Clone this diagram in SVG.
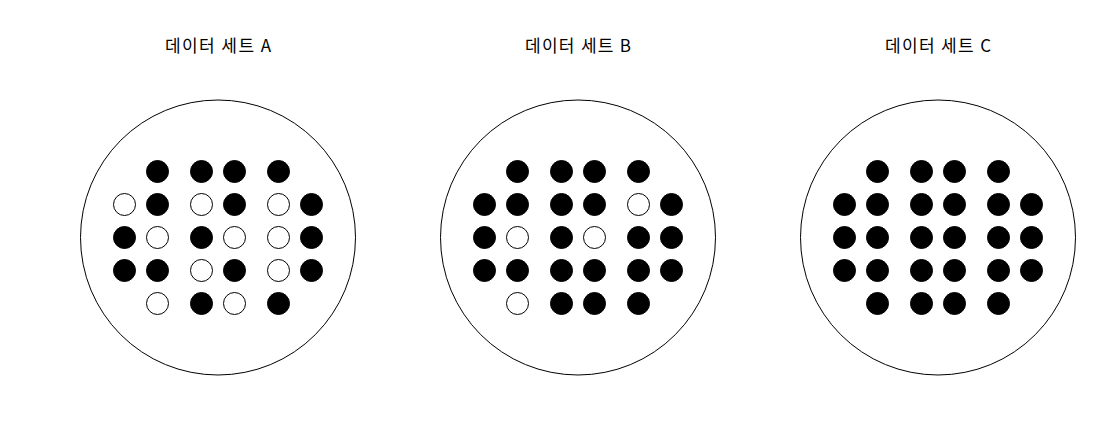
<svg xmlns="http://www.w3.org/2000/svg" width="1120" height="430" viewBox="0 0 1120 430">
<style>
.big{fill:#fff;stroke:#000;stroke-width:1}
.b{fill:#000;stroke:#000;stroke-width:1}
.w{fill:#fff;stroke:#000;stroke-width:1}
.t{font-family:"Noto Sans CJK KR","Liberation Sans",sans-serif;font-size:17px;font-weight:400;fill:#000;text-anchor:middle}
</style>
<rect width="1120" height="430" fill="#fff"/>
<g id="setA">
<text class="t" x="218" y="52" textLength="106" lengthAdjust="spacing">데이터 세트 A</text>
<circle class="big" cx="218" cy="237.5" r="137.5"/>
<circle class="b" cx="157.5" cy="171.5" r="11"/><circle class="b" cx="201.5" cy="171.5" r="11"/><circle class="b" cx="234.5" cy="171.5" r="11"/><circle class="b" cx="278.5" cy="171.5" r="11"/>
<circle class="w" cx="124.5" cy="204.5" r="11"/><circle class="b" cx="157.5" cy="204.5" r="11"/><circle class="w" cx="201.5" cy="204.5" r="11"/><circle class="b" cx="234.5" cy="204.5" r="11"/><circle class="w" cx="278.5" cy="204.5" r="11"/><circle class="b" cx="311.5" cy="204.5" r="11"/>
<circle class="b" cx="124.5" cy="237.5" r="11"/><circle class="w" cx="157.5" cy="237.5" r="11"/><circle class="b" cx="201.5" cy="237.5" r="11"/><circle class="w" cx="234.5" cy="237.5" r="11"/><circle class="w" cx="278.5" cy="237.5" r="11"/><circle class="b" cx="311.5" cy="237.5" r="11"/>
<circle class="b" cx="124.5" cy="270.5" r="11"/><circle class="b" cx="157.5" cy="270.5" r="11"/><circle class="w" cx="201.5" cy="270.5" r="11"/><circle class="b" cx="234.5" cy="270.5" r="11"/><circle class="w" cx="278.5" cy="270.5" r="11"/><circle class="b" cx="311.5" cy="270.5" r="11"/>
<circle class="w" cx="157.5" cy="303.5" r="11"/><circle class="b" cx="201.5" cy="303.5" r="11"/><circle class="w" cx="234.5" cy="303.5" r="11"/><circle class="b" cx="278.5" cy="303.5" r="11"/>
</g>
<g id="setB">
<text class="t" x="578" y="52" textLength="106" lengthAdjust="spacing">데이터 세트 B</text>
<circle class="big" cx="578" cy="237.5" r="137.5"/>
<circle class="b" cx="517.5" cy="171.5" r="11"/><circle class="b" cx="561.5" cy="171.5" r="11"/><circle class="b" cx="594.5" cy="171.5" r="11"/><circle class="b" cx="638.5" cy="171.5" r="11"/>
<circle class="b" cx="484.5" cy="204.5" r="11"/><circle class="b" cx="517.5" cy="204.5" r="11"/><circle class="b" cx="561.5" cy="204.5" r="11"/><circle class="b" cx="594.5" cy="204.5" r="11"/><circle class="w" cx="638.5" cy="204.5" r="11"/><circle class="b" cx="671.5" cy="204.5" r="11"/>
<circle class="b" cx="484.5" cy="237.5" r="11"/><circle class="w" cx="517.5" cy="237.5" r="11"/><circle class="b" cx="561.5" cy="237.5" r="11"/><circle class="w" cx="594.5" cy="237.5" r="11"/><circle class="b" cx="638.5" cy="237.5" r="11"/><circle class="b" cx="671.5" cy="237.5" r="11"/>
<circle class="b" cx="484.5" cy="270.5" r="11"/><circle class="b" cx="517.5" cy="270.5" r="11"/><circle class="b" cx="561.5" cy="270.5" r="11"/><circle class="b" cx="594.5" cy="270.5" r="11"/><circle class="b" cx="638.5" cy="270.5" r="11"/><circle class="b" cx="671.5" cy="270.5" r="11"/>
<circle class="w" cx="517.5" cy="303.5" r="11"/><circle class="b" cx="561.5" cy="303.5" r="11"/><circle class="b" cx="594.5" cy="303.5" r="11"/><circle class="b" cx="638.5" cy="303.5" r="11"/>
</g>
<g id="setC">
<text class="t" x="938" y="52" textLength="106" lengthAdjust="spacing">데이터 세트 C</text>
<circle class="big" cx="938" cy="237.5" r="137.5"/>
<circle class="b" cx="877.5" cy="171.5" r="11"/><circle class="b" cx="921.5" cy="171.5" r="11"/><circle class="b" cx="954.5" cy="171.5" r="11"/><circle class="b" cx="998.5" cy="171.5" r="11"/>
<circle class="b" cx="844.5" cy="204.5" r="11"/><circle class="b" cx="877.5" cy="204.5" r="11"/><circle class="b" cx="921.5" cy="204.5" r="11"/><circle class="b" cx="954.5" cy="204.5" r="11"/><circle class="b" cx="998.5" cy="204.5" r="11"/><circle class="b" cx="1031.5" cy="204.5" r="11"/>
<circle class="b" cx="844.5" cy="237.5" r="11"/><circle class="b" cx="877.5" cy="237.5" r="11"/><circle class="b" cx="921.5" cy="237.5" r="11"/><circle class="b" cx="954.5" cy="237.5" r="11"/><circle class="b" cx="998.5" cy="237.5" r="11"/><circle class="b" cx="1031.5" cy="237.5" r="11"/>
<circle class="b" cx="844.5" cy="270.5" r="11"/><circle class="b" cx="877.5" cy="270.5" r="11"/><circle class="b" cx="921.5" cy="270.5" r="11"/><circle class="b" cx="954.5" cy="270.5" r="11"/><circle class="b" cx="998.5" cy="270.5" r="11"/><circle class="b" cx="1031.5" cy="270.5" r="11"/>
<circle class="b" cx="877.5" cy="303.5" r="11"/><circle class="b" cx="921.5" cy="303.5" r="11"/><circle class="b" cx="954.5" cy="303.5" r="11"/><circle class="b" cx="998.5" cy="303.5" r="11"/>
</g>
<g id="connectors"/>
</svg>
